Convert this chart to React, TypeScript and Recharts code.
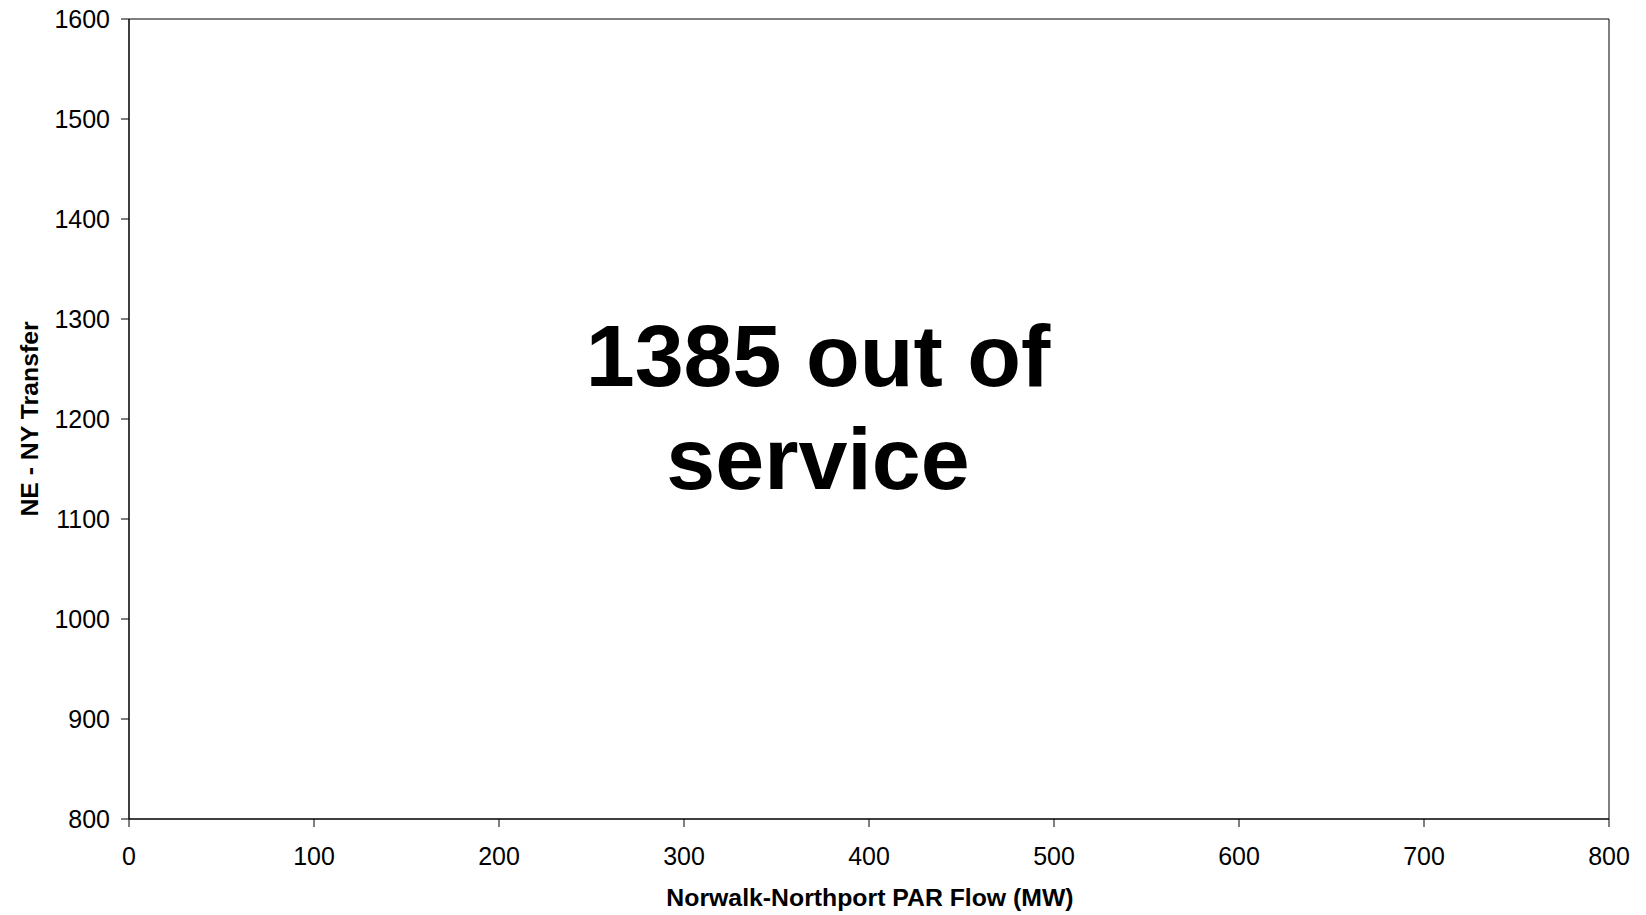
import React from "react";
import { ScatterChart, Scatter, XAxis, YAxis, Label, ReferenceArea } from "recharts";

const xTicks = [0, 100, 200, 300, 400, 500, 600, 700, 800];
const yTicks = [800, 900, 1000, 1100, 1200, 1300, 1400, 1500, 1600];
const points: { x: number; y: number }[] = [];
const xTitle = "Norwalk-Northport PAR Flow (MW)";
const yTitle = "NE - NY Transfer";
const noteLines = ["1385 out of", "service"];

const FONT = "'Liberation Sans', Arial, sans-serif";

export default function App() {
  return (
    <div style={{ position: "fixed", left: 0, top: 0, width: 1646, height: 915, background: "#fff", fontFamily: FONT }}>
      <ScatterChart width={1646} height={915} margin={{ top: 19, right: 37, bottom: 0, left: 0 }}>
        <XAxis
          type="number"
          dataKey="x"
          domain={[0, 800]}
          allowDataOverflow={true}
          ticks={xTicks}
          interval={0}
          height={96}
          stroke="#000"
          tickSize={8}
          tickMargin={20}
          tick={{ fill: "#000", fontSize: 25, fontFamily: FONT }}
          tickLine={{ stroke: "#000" }}
          axisLine={{ stroke: "#000" }}
        >
          <Label
            value={xTitle}
            position="insideBottom"
            offset={9}
            dx={1}
            style={{ fontSize: 24.8, fontWeight: "bold", fill: "#000", fontFamily: FONT }}
          />
        </XAxis>
        <YAxis
          type="number"
          dataKey="y"
          domain={[800, 1600]}
          allowDataOverflow={true}
          ticks={yTicks}
          interval={0}
          width={129}
          stroke="#000"
          tickSize={8}
          tickMargin={11}
          tick={{ fill: "#000", fontSize: 25, fontFamily: FONT }}
          tickLine={{ stroke: "#000" }}
          axisLine={{ stroke: "#000" }}
        >
          <Label
            value={yTitle}
            angle={-90}
            position="insideLeft"
            offset={29}
            style={{ fontSize: 24.8, fontWeight: "bold", fill: "#000", fontFamily: FONT, textAnchor: "middle" }}
          />
        </YAxis>
        <ReferenceArea
          x1={0}
          x2={800}
          y1={800}
          y2={1600}
          ifOverflow="visible"
          fill="none"
          stroke="#000"
          strokeWidth={1}
          fillOpacity={0}
        />
        <Scatter data={points} fill="#000" isAnimationActive={false} />
      </ScatterChart>
      <div
        style={{
          position: "absolute",
          left: 518,
          top: 304,
          width: 600,
          textAlign: "center",
          fontFamily: FONT,
          fontWeight: "bold",
          fontSize: 88,
          lineHeight: "103px",
          color: "#000",
        }}
      >
        {noteLines.map((l) => (
          <div key={l}>{l}</div>
        ))}
      </div>
    </div>
  );
}
